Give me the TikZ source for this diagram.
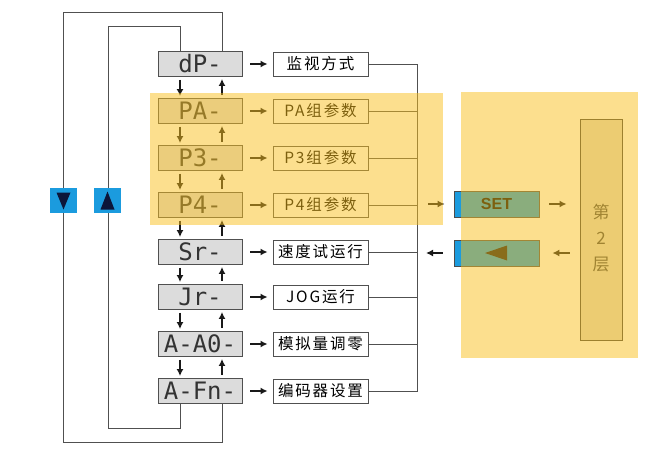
\documentclass[tikz,border=0pt]{standalone}
\usepackage{fontspec}
\usepackage{tikz}
\usetikzlibrary{arrows.meta}
\newfontfamily\cjk{Noto Sans CJK SC}[LetterSpace=12]
\newfontfamily\segfont{DejaVu Sans Mono}
\newfontfamily\keyfont{Liberation Sans}

\definecolor{ovl}{RGB}{250,192,30}
\definecolor{dispgray}{RGB}{220,220,220}
\definecolor{linegray}{RGB}{80,80,80}
\definecolor{keyblue}{RGB}{27,155,222}
\definecolor{navy}{RGB}{12,22,58}
\definecolor{layergray}{RGB}{222,218,200}

\tikzstyle{disp}=[draw=linegray,fill=dispgray,line width=0.9pt,minimum width=84pt,minimum height=25pt,inner sep=0,text=black!80,font=\segfont\fontsize{24}{24}\selectfont]
\tikzstyle{lab}=[draw=linegray,fill=white,line width=0.9pt,minimum width=95pt,minimum height=24pt,inner sep=0,font=\cjk\fontsize{15.5}{16}\selectfont]
\tikzstyle{line}=[draw=linegray,line width=1pt]
\tikzstyle{arr}=[line width=2.3pt,-{Latex[length=7pt,width=7pt]},draw=black!90,fill=black!90]
\tikzstyle{key}=[fill=keyblue,minimum width=27pt,minimum height=25pt,inner sep=0]
\tikzstyle{btn}=[draw=black!70,fill=keyblue,line width=0.8pt,minimum width=85pt,minimum height=26pt,inner sep=0,font=\keyfont\bfseries\fontsize{16}{16}\selectfont]
\tikzstyle{shade}=[fill=ovl,fill opacity=0.5,draw=none]

\begin{document}
\begin{tikzpicture}[x=1pt,y=-1pt]
	\useasboundingbox (0,0) rectangle (647,463);

                        % display column
                        \node[disp] (dp) at (200, 64) {dP-};
                        \node[disp] (pa) at (200, 111) {PA-};
                        \node[disp] (p3) at (200, 158) {P3-};
                        \node[disp] (p4) at (200, 205) {P4-};
                        \node[disp] (sr) at (200, 252) {Sr-};
                        \node[disp] (jr) at (200, 297) {Jr-};
                        \node[disp] (aa) at (200, 344) {A-A0-};
                        \node[disp] (fn) at (200, 391) {A-Fn-};

                        % labels
                        \node[lab] (ldp) at (320.5, 64) {监视方式};
                        \node[lab] (lpa) at (320.5, 111) {PA组参数};
                        \node[lab] (lp3) at (320.5, 158) {P3组参数};
                        \node[lab] (lp4) at (320.5, 205) {P4组参数};
                        \node[lab] (lsr) at (320.5, 252) {速度试运行};
                        \node[lab] (ljr) at (320.5, 297) {JOG运行};
                        \node[lab] (laa) at (320.5, 344) {模拟量调零};
                        \node[lab] (lfn) at (320.5, 391) {编码器设置};

                        \coordinate (dn) at (180, 0);
                        \coordinate (up) at (222, 0);
                        \coordinate (bus) at (417, 0);
                        \coordinate (otl) at (63, 12);
                        \coordinate (obl) at (63, 442);
                        \coordinate (itl) at (108, 26);
                        \coordinate (ibl) at (108, 428);

                        % loops
                        \draw[line]
                        (dp.north -| up) |- (otl) -- (obl) -| (fn.south -| up)
                        (dp.north -| dn) |- (itl) -- (ibl) -| (fn.south -| dn)
                        ;

                        \node[key] (kdn) at (63.5, 200.5) {};
                        \node[key] (kup) at (107.5, 200.5) {};
                        \fill[navy] (kdn.center) ++(-7,-8) -- ++(14,0) -- ++(-7,17) -- cycle;
                        \fill[navy] (kup.center) ++(-7,9) -- ++(14,0) -- ++(-7,-18) -- cycle;

                        % right bus
                        \draw[line]
                        (ldp.east) -- (ldp.east -| bus) -- (lfn.east -| bus) -- (lfn.east)
                        (lpa.east) -- (lpa.east -| bus)
                        (lp3.east) -- (lp3.east -| bus)
                        (lp4.east) -- (lp4.east -| bus)
                        (lsr.east) -- (lsr.east -| bus)
                        (ljr.east) -- (ljr.east -| bus)
                        (laa.east) -- (laa.east -| bus)
                        ;

                        % display -> label
                        \path[every edge/.style={arr,draw,shorten <=8pt,shorten >=5pt}]
                        (dp) edge (ldp)
                        (pa) edge (lpa)
                        (p3) edge (lp3)
                        (p4) edge (lp4)
                        (sr) edge (lsr)
                        (jr) edge (ljr)
                        (aa) edge (laa)
                        (fn) edge (lfn)
                        ;

                        % up / down
                        \path[every edge/.style={arr,draw,shorten <=3pt,shorten >=2pt}]
                        (dp.south -| dn) edge (pa.north -| dn)
                        (pa.south -| dn) edge (p3.north -| dn)
                        (p3.south -| dn) edge (p4.north -| dn)
                        (p4.south -| dn) edge (sr.north -| dn)
                        (sr.south -| dn) edge (jr.north -| dn)
                        (jr.south -| dn) edge (aa.north -| dn)
                        (aa.south -| dn) edge (fn.north -| dn)
                        (pa.north -| up) edge (dp.south -| up)
                        (p3.north -| up) edge (pa.south -| up)
                        (p4.north -| up) edge (p3.south -| up)
                        (sr.north -| up) edge (p4.south -| up)
                        (jr.north -| up) edge (sr.south -| up)
                        (aa.north -| up) edge (jr.south -| up)
                        (fn.north -| up) edge (aa.south -| up)
                        ;

                        % keys and layer
                        \node[btn] (set) at (496.5, 204) {SET};
                        \node[btn] (back) at (496.5, 253) {};
                        \fill[black!90] (back.center) ++(-11.5,0) -- ++(22,-7.5) -- ++(0,15) -- cycle;
                        \node[draw=black!75,fill=layergray,line width=0.9pt,minimum width=42pt,minimum height=221pt,inner sep=0,
                          label={[align=center,text=black!72,font=\cjk\fontsize{17}{26}\selectfont,yshift=-9pt]center:第\\2\\层}] (layer) at (601, 229.5) {};

                        \path[every edge/.style={arr,draw,shorten <=11pt,shorten >=9pt}]
                        (set.west -| bus) edge (set.west)
                        (back.west) edge (back.west -| bus)
                        ;
                        \path[every edge/.style={arr,draw,shorten <=10pt,shorten >=13pt}]
                        (set.east) edge (set.east -| layer.west)
                        (back.east -| layer.west) edge (back.east)
                        ;

                        % yellow shading
                        \fill[shade] (150, 93) rectangle (443, 225);
                        \fill[shade] (461, 92) rectangle (638, 358);

    \end{tikzpicture}
\end{document}
